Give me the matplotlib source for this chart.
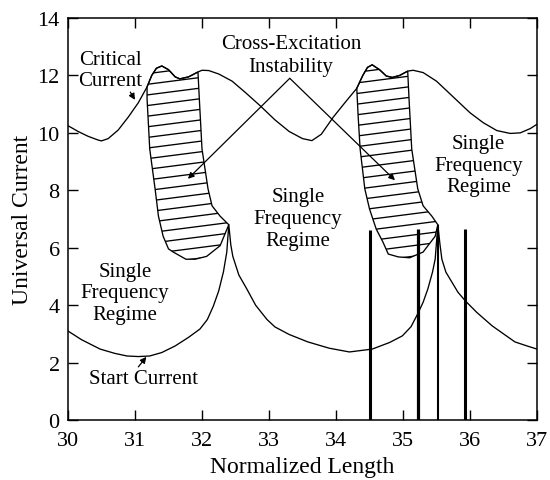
import numpy as np
import matplotlib
matplotlib.use("Agg")
import matplotlib.pyplot as plt
from matplotlib.patches import Polygon

plt.rcParams["font.family"] = ["Liberation Serif", "DejaVu Serif"]

# Critical current (upper oscillating boundary)
crit_x = [30.0, 30.15, 30.3, 30.45, 30.5, 30.6, 30.75, 30.9, 31.05, 31.18,
          31.25, 31.32, 31.4, 31.5, 31.6, 31.67, 31.8, 31.94, 32.0, 32.1,
          32.25, 32.45, 32.65, 32.87, 33.09, 33.3, 33.5, 33.64, 33.78, 33.96,
          34.15, 34.31, 34.4, 34.47, 34.54, 34.65, 34.75, 34.84, 34.95, 35.07,
          35.15, 35.3, 35.5, 35.75, 36.0, 36.2, 36.4, 36.6, 36.75, 36.9, 37.0]
crit_y = [10.25, 10.05, 9.88, 9.75, 9.72, 9.8, 10.1, 10.55, 11.05, 11.6,
          12.0, 12.25, 12.33, 12.2, 11.95, 11.88, 11.95, 12.12, 12.18, 12.17,
          12.05, 11.8, 11.4, 10.94, 10.45, 10.05, 9.8, 9.73, 9.95, 10.55,
          11.1, 11.55, 12.0, 12.28, 12.37, 12.2, 11.98, 11.93, 12.0, 12.15,
          12.18, 12.1, 11.8, 11.25, 10.7, 10.35, 10.08, 9.98, 10.0, 10.15, 10.3]

# Start current (lower boundary with cusps)
start_x = [30.0, 30.2, 30.48, 30.7, 30.88, 31.05, 31.22, 31.4, 31.6, 31.8,
           31.97, 32.08, 32.17, 32.25, 32.32, 32.37, 32.4, 32.43, 32.46, 32.55,
           32.67, 32.8, 32.97, 33.09, 33.3, 33.58, 33.9, 34.2, 34.54, 34.8,
           34.99, 35.12, 35.22, 35.3, 35.37, 35.44, 35.48, 35.52, 35.55, 35.58,
           35.64, 35.73, 35.82, 35.93, 36.1, 36.33, 36.5, 36.67, 36.85, 37.0]
start_y = [3.1, 2.8, 2.47, 2.32, 2.23, 2.21, 2.23, 2.35, 2.58, 2.88,
           3.17, 3.5, 3.97, 4.5, 5.16, 5.85, 6.8, 6.1, 5.7, 5.05,
           4.56, 4.0, 3.5, 3.24, 2.98, 2.72, 2.5, 2.37, 2.47, 2.7,
           2.93, 3.25, 3.7, 4.1, 4.56, 5.15, 5.6, 6.8, 6.15, 5.6,
           5.15, 4.8, 4.45, 4.15, 3.75, 3.28, 3.0, 2.72, 2.58, 2.47]

# Cross-excitation instability regions (closed outlines)
inst1_x = [31.18, 31.25, 31.32, 31.4, 31.5, 31.6, 31.67, 31.8, 31.94,
           31.96, 32.0, 32.09, 32.15, 32.27, 32.4,
           32.27, 32.07, 31.9, 31.76, 31.57,
           31.5, 31.42, 31.35, 31.3, 31.22, 31.18]
inst1_y = [11.6, 12.0, 12.25, 12.33, 12.2, 11.95, 11.88, 11.95, 12.12,
           11.2, 9.44, 8.05, 7.46, 7.1, 6.8,
           6.07, 5.7, 5.6, 5.6, 5.85,
           5.96, 6.4, 7.1, 8.05, 9.44, 11.2]
inst2_x = [34.31, 34.4, 34.47, 34.54, 34.65, 34.75, 34.84, 34.95, 35.07,
           35.09, 35.13, 35.22, 35.3, 35.43, 35.52,
           35.48, 35.3, 35.1, 34.93, 34.78,
           34.7, 34.6, 34.5, 34.43, 34.36, 34.33]
inst2_y = [11.55, 12.0, 12.28, 12.37, 12.2, 11.98, 11.93, 12.0, 12.15,
           11.18, 9.44, 8.05, 7.46, 7.1, 6.8,
           6.4, 5.85, 5.65, 5.68, 5.78,
           6.2, 6.65, 7.35, 8.05, 9.44, 10.6]

# Operating points (vertical bars)
bar_x = [34.5, 35.22, 35.52, 35.93]
bar_top = [6.6, 6.65, 6.8, 6.65]
bar_lw = [2.2, 2.3, 1.5, 2.2]

fig = plt.figure(figsize=(5.5, 4.81), dpi=100)
ax = fig.add_axes([0.1236, 0.1247, 0.8528, 0.8358])

ax.plot(crit_x, crit_y, color="black", lw=0.95)
ax.plot(start_x, start_y, color="black", lw=0.95)

# Hatched instability regions
for px, py in ((inst1_x, inst1_y), (inst2_x, inst2_y)):
    poly = Polygon(np.column_stack([px, py]), closed=True, facecolor="none",
                   edgecolor="black", lw=0.95)
    ax.add_patch(poly)
    xs = np.array([min(px) - 0.2, max(px) + 0.2])
    for c in np.arange(min(py) - 1.0, max(py) + 0.5, 0.37):
        ln, = ax.plot(xs, c + 0.3 * (xs - xs[0]), color="black", lw=0.95)
        ln.set_clip_path(poly)

for x, top, lw in zip(bar_x, bar_top, bar_lw):
    ax.vlines(x, 0, top, color="black", lw=lw)

arrow = dict(arrowstyle="-|>", color="black", lw=0.9, mutation_scale=9,
             shrinkA=0, shrinkB=0)
tfs = 15

ax.text(30.63, 12.18, "Critical\nCurrent", ha="center", va="center",
        fontsize=tfs, linespacing=1.15)
ax.annotate("", xy=(31.0, 11.15), xytext=(30.93, 11.42), arrowprops=arrow)

ax.text(33.33, 12.72, "Cross-Excitation\nInstability", ha="center",
        va="center", fontsize=tfs, linespacing=1.25)
ax.annotate("", xy=(31.79, 8.4), xytext=(33.31, 11.9), arrowprops=arrow)
ax.annotate("", xy=(34.88, 8.35), xytext=(33.31, 11.9), arrowprops=arrow)

ax.text(30.85, 4.43, "Single\nFrequency\nRegime", ha="center", va="center",
        fontsize=tfs, linespacing=1.18)
ax.text(33.43, 7.03, "Single\nFrequency\nRegime", ha="center", va="center",
        fontsize=tfs, linespacing=1.22)
ax.text(36.13, 8.88, "Single\nFrequency\nRegime", ha="center", va="center",
        fontsize=tfs, linespacing=1.2)

ax.text(31.12, 1.43, "Start Current", ha="center", va="center", fontsize=tfs)
ax.annotate("", xy=(31.17, 2.2), xytext=(31.05, 1.85), arrowprops=arrow)

ax.set_xlim(30, 37)
ax.set_ylim(0, 14)
ax.set_xticks(np.arange(30, 38, 1))
ax.set_yticks(np.arange(0, 15, 2))
ax.tick_params(direction="in", length=7, width=1.0, top=True, right=True,
               labelsize=16)
ax.tick_params(axis="x", pad=8)
ax.tick_params(axis="y", pad=6)
for s in ax.spines.values():
    s.set_linewidth(1.1)

ax.set_xlabel("Normalized Length", fontsize=17, labelpad=4.5)
ax.set_ylabel("Universal Current", fontsize=17, labelpad=3)

fig.savefig("out.png", dpi=100)
